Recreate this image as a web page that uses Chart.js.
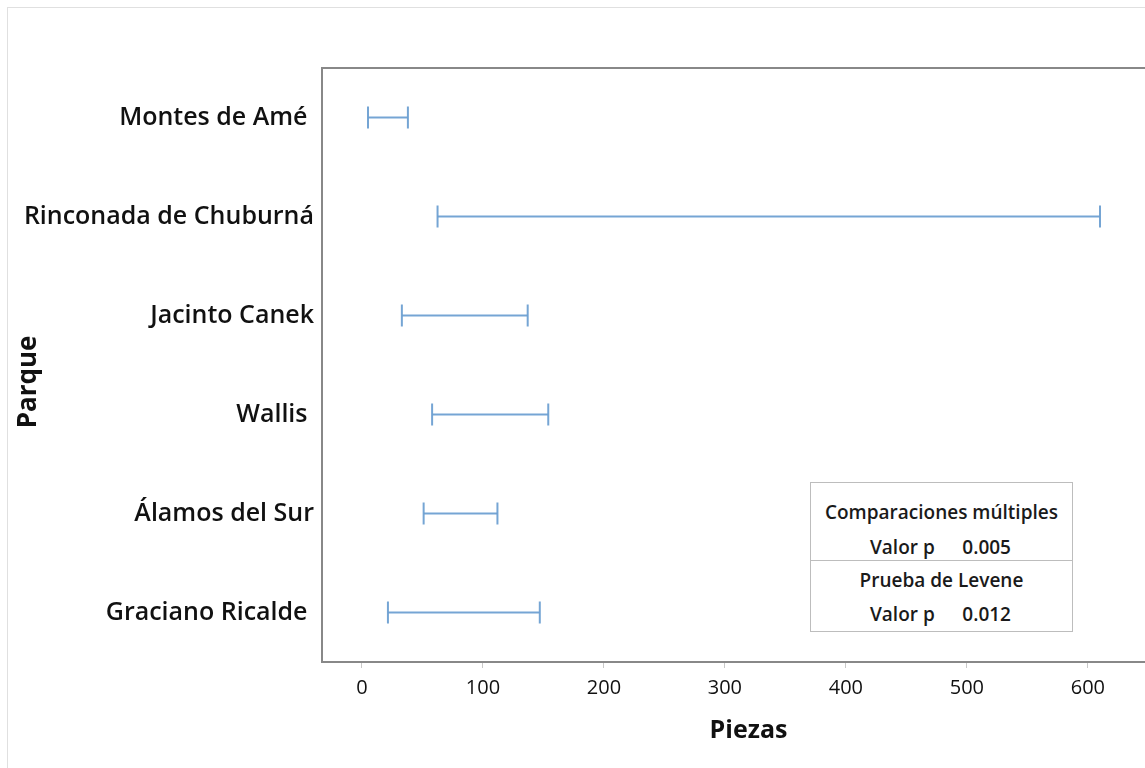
<!DOCTYPE html>
<html>
<head>
<meta charset="utf-8">
<script src="https://cdn.jsdelivr.net/npm/chart.js@4.4.1/dist/chart.umd.min.js"></script>
<style>
    html, body { margin: 0; padding: 0; overflow: hidden; background: #fff; }
    #frame { position: absolute; left: 7px; top: 7px; width: 1200px; height: 800px; border: 1px solid #e0e0e0; }
    #wrap { position: absolute; left: 0; top: 0; width: 1175px; height: 768px; }
    #legendBox {
        position: absolute; left: 810px; top: 482px; width: 261px; height: 148px;
        border: 1px solid #bdbdbd; background: #fff;
        font-family: "Open Sans", sans-serif; font-weight: 600; font-size: 19px; color: #1a1a1a;
    }
    #legendBox .row { position: absolute; left: 0; right: 0; height: 26px; line-height: 26px; text-align: center; white-space: nowrap; }
    #legendBox .sep { position: absolute; left: 0; right: 0; top: 77px; border-top: 1px solid #bdbdbd; }
    #legendBox .lbl { position: absolute; left: 59px; }
    #legendBox .val { position: absolute; right: 61px; }
</style>
</head>
<body>
<div id="frame"></div>
<div id="wrap"><canvas id="chart" width="1175" height="768"></canvas></div>
<div id="legendBox">
    <div class="row" style="top:16px">Comparaciones múltiples</div>
    <div class="row" style="top:51px"><span class="lbl">Valor p</span><span class="val">0.005</span></div>
    <div class="sep"></div>
    <div class="row" style="top:84px">Prueba de Levene</div>
    <div class="row" style="top:118px"><span class="lbl">Valor p</span><span class="val">0.012</span></div>
</div>
<script>
// parques (trailing spaces kept as in the original labels)
const parques = ['Montes de Amé ', 'Rinconada de Chuburná', 'Jacinto Canek', 'Wallis ', 'Álamos del Sur', 'Graciano Ricalde '];
// intervalos de confianza (inferior / superior)
const limiteInf = [5, 62.5, 33, 58, 51, 21.5];
const limiteSup = [38, 610, 137, 154, 112, 147];
const xTicks = [0, 100, 200, 300, 400, 500, 600];

const azul = 'rgba(110, 160, 210, 0.95)';

const datasets = parques.map((p, i) => ({
    data: [{ x: limiteInf[i], y: p }, { x: limiteSup[i], y: p }],
    showLine: true,
    borderColor: azul,
    backgroundColor: azul,
    borderWidth: 2,
    pointStyle: 'line',
    rotation: 90,
    pointRadius: 11,
    pointBorderWidth: 2,
    pointHoverRadius: 11
}));

const topBorder = {
    id: 'topBorder',
    afterDraw(chart) {
        const { ctx, chartArea } = chart;
        ctx.save();
        ctx.strokeStyle = '#888';
        ctx.lineWidth = 2;
        ctx.beginPath();
        ctx.moveTo(chartArea.left - 1, chartArea.top);
        ctx.lineTo(chartArea.right, chartArea.top);
        ctx.stroke();
        ctx.restore();
    }
};

new Chart(document.getElementById('chart'), {
    type: 'scatter',
    data: { datasets: datasets },
    options: {
        responsive: false,
        animation: false,
        layout: { autoPadding: false, padding: { top: 68, right: 0, bottom: 0, left: 0 } },
        plugins: { legend: { display: false }, tooltip: { enabled: false } },
        scales: {
            x: {
                type: 'linear',
                min: -33,
                max: 672,
                afterBuildTicks: scale => { scale.ticks = xTicks.map(v => ({ value: v })); },
                afterFit: scale => { scale.height = 106; scale.paddingLeft = 0; scale.paddingRight = 0; },
                grid: { drawOnChartArea: false, drawTicks: true, tickLength: 6, color: '#c8c8c8' },
                border: { display: true, color: '#888', width: 2 },
                ticks: { color: '#111', font: { family: 'Open Sans', size: 20 }, padding: 8 },
                title: { display: true, text: 'Piezas', color: '#111', font: { family: 'Open Sans', size: 25, weight: '700' }, padding: { top: 0, bottom: 22 } }
            },
            y: {
                type: 'category',
                labels: parques,
                offset: true,
                afterFit: scale => { scale.width = 322; },
                grid: { display: false, drawTicks: false },
                border: { display: true, color: '#888', width: 2 },
                ticks: { color: '#111', font: { family: 'Open Sans', size: 25, weight: '600' }, padding: 8 },
                title: { display: true, text: 'Parque     ', color: '#111', font: { family: 'Open Sans', size: 26, weight: '700' }, padding: { top: 13, bottom: 0 } }
            }
        }
    },
    plugins: [topBorder]
});
</script>
</body>
</html>
